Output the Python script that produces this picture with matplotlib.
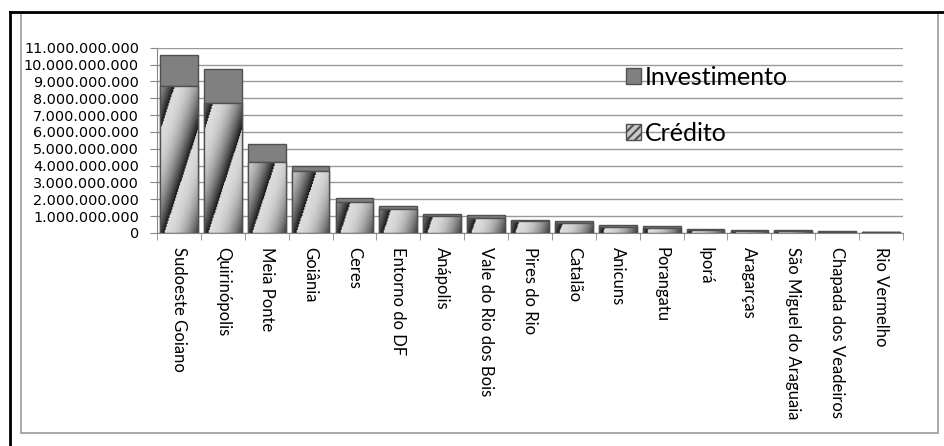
import numpy as np
import matplotlib
matplotlib.use('Agg')
import matplotlib.pyplot as plt
from matplotlib.patches import Rectangle, Patch
from matplotlib.lines import Line2D
from matplotlib.ticker import FuncFormatter, MultipleLocator

# dados (R$)
regioes = ['Sudoeste Goiano', 'Quirinópolis', 'Meia Ponte', 'Goiânia', 'Ceres',
           'Entorno do DF', 'Anápolis', 'Vale do Rio dos Bois', 'Pires do Rio',
           'Catalão', 'Anicuns', 'Porangatu', 'Iporá', 'Aragarças',
           'São Miguel do Araguaia', 'Chapada dos Veadeiros', 'Rio Vermelho']
credito = [8.74e9, 7.73e9, 4.20e9, 3.68e9, 1.82e9, 1.44e9, 0.99e9, 0.89e9, 0.69e9,
           0.59e9, 0.37e9, 0.30e9, 0.16e9, 0.10e9, 0.10e9, 0.06e9, 0.05e9]
total = [10.56e9, 9.73e9, 5.28e9, 3.98e9, 2.09e9, 1.62e9, 1.13e9, 1.07e9, 0.79e9,
         0.69e9, 0.45e9, 0.40e9, 0.24e9, 0.16e9, 0.16e9, 0.10e9, 0.08e9]
investimento = [t - c for t, c in zip(total, credito)]

plt.rcParams['hatch.color'] = '#404040'
plt.rcParams['hatch.linewidth'] = 1.5

fig = plt.figure(figsize=(9.45, 4.46), dpi=100)

# bordas externas (linha preta + borda cinza do grafico)
fig.add_artist(Line2D([10/945, 1], [1-12/446, 1-12/446], color='black', lw=2))
fig.add_artist(Line2D([10/945, 10/945], [0, 1-12/446], color='black', lw=2))
fig.add_artist(Rectangle((21/945, 1-433/446), (938-21)/945, (433-13)/446,
                         fill=False, edgecolor='#999999', lw=1.2))

ax = fig.add_axes([157/945, 1-233/446, (903-157)/945, (233-47.7)/446])

x = np.arange(len(regioes))
largura = 0.86
ax.set_xlim(-0.5, len(regioes) - 0.5)
ax.set_ylim(0, 11e9)

b1 = ax.bar(x, credito, largura, color='#d0d0d0', edgecolor='#505050',
            linewidth=1, zorder=3)
b2 = ax.bar(x, investimento, largura, bottom=credito, color='#808080',
            edgecolor='#505050', linewidth=1, zorder=3)

# listras diagonais em degrade dentro das barras de credito
px_x = 43.9          # pixels por categoria
px_y = 16.85 / 1e9   # pixels por real
for xi, h, barra in zip(x, credito, b1):
    nx = 40
    ny = max(int(h * px_y), 2)
    gx = np.linspace(0, largura * px_x, nx)
    gy = np.linspace(0, h * px_y, ny)
    X, Y = np.meshgrid(gx, gy)
    fase = ((X - Y * 0.33 - 4) / 38.0) % 1.0
    val = 0.86 - 0.78 * fase ** 2.2
    im = ax.imshow(val, cmap='gray', vmin=0, vmax=1, origin='lower', aspect='auto',
                   extent=(xi - largura / 2, xi + largura / 2, 0, h), zorder=3.5,
                   interpolation='bilinear')
    im.set_clip_path(barra)
    ax.add_patch(Rectangle((xi - largura / 2, 0), largura, h, fill=False,
                           edgecolor='#505050', lw=1, zorder=3.6))

ax.set_xlim(-0.5, len(regioes) - 0.5)
ax.set_ylim(0, 11e9)
ax.yaxis.set_major_locator(MultipleLocator(1e9))
ax.yaxis.set_major_formatter(FuncFormatter(lambda v, p: f'{int(round(v)):,}'.replace(',', '.')))
ax.grid(axis='y', color='#999999', lw=1, zorder=0)

ax.set_xticks(x)
ax.set_xticklabels(regioes, rotation=-90, ha='center', va='top', fontsize=12,
                   family='Lato')
ax.set_xticks(np.arange(-0.5, len(regioes)), minor=True)
ax.tick_params(axis='x', which='major', length=0, pad=10)
ax.tick_params(axis='x', which='minor', length=5, color='#888888')
ax.tick_params(axis='y', length=5, color='#888888', labelsize=10.4, pad=8)

for s in ['top', 'right']:
    ax.spines[s].set_visible(False)
for s in ['left', 'bottom']:
    ax.spines[s].set_color('#888888')

h_inv = Patch(facecolor='#808080', edgecolor='#505050', label='Investimento')
h_cred = Patch(facecolor='#c8c8c8', edgecolor='#505050', hatch='////', label='Crédito')
leg = ax.legend(handles=[h_inv, h_cred], loc='upper left', bbox_to_anchor=(0.615, 0.955),
                frameon=False, prop={'family': 'Lato', 'size': 18}, labelspacing=1.3,
                handlelength=0.62, handleheight=0.62, handletextpad=0.15, borderaxespad=0)

fig.savefig('out.png', dpi=100)
